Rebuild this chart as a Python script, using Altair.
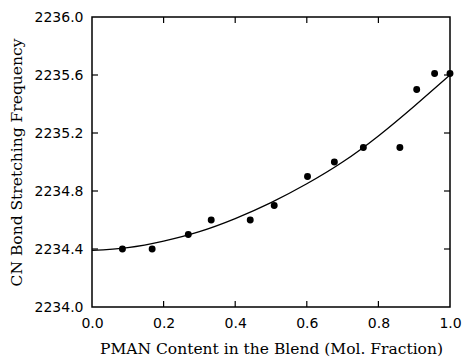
import altair as alt
import pandas as pd

# Measured points
x_pts = [0.085, 0.168, 0.269, 0.333, 0.442, 0.509, 0.602, 0.677, 0.758, 0.860, 0.907, 0.957, 1.000]
y_pts = [2234.40, 2234.40, 2234.50, 2234.60, 2234.60, 2234.70, 2234.90, 2235.00, 2235.10, 2235.10, 2235.50, 2235.61, 2235.61]

# Fitted curve
x_fit = [0.0, 0.1, 0.2, 0.3, 0.4, 0.5, 0.6, 0.7, 0.8, 0.9, 1.0]
y_fit = [2234.39, 2234.41, 2234.455, 2234.52, 2234.61, 2234.72, 2234.85, 2235.00, 2235.18, 2235.385, 2235.60]

x_ticks = [0.2, 0.4, 0.6, 0.8]
y_ticks = [2234.4, 2234.8, 2235.2, 2235.6]

W, H = 358, 290
TL = 6

pts = pd.DataFrame({"x": x_pts, "y": y_pts})
fit = pd.DataFrame({"x": x_fit, "y": y_fit})
xt = pd.DataFrame({"x": x_ticks})
yt = pd.DataFrame({"y": y_ticks})

xs = alt.Scale(domain=[0, 1], nice=False, zero=False)
ys = alt.Scale(domain=[2234, 2236], nice=False, zero=False)

XT = "PMAN Content in the Blend (Mol. Fraction)"
YT = "CN Bond Stretching Frequency"

line = alt.Chart(fit).mark_line(color="black", strokeWidth=1.3, interpolate="natural").encode(
    x=alt.X("x:Q", scale=xs, title=XT, axis=alt.Axis(
        values=[0, 0.2, 0.4, 0.6, 0.8, 1.0], format=".1f", labelPadding=9, titlePadding=11)),
    y=alt.Y("y:Q", scale=ys, title=YT, axis=alt.Axis(
        values=[2234.0, 2234.4, 2234.8, 2235.2, 2235.6, 2236.0], format=".1f", labelPadding=9, titlePadding=10)),
)

points = alt.Chart(pts).mark_circle(color="black", opacity=1, size=48).encode(
    x=alt.X("x:Q", scale=xs, title=XT),
    y=alt.Y("y:Q", scale=ys, title=YT),
)

xb = alt.Chart(xt).mark_rule(color="black", strokeWidth=1.2).encode(
    x=alt.X("x:Q", scale=xs, title=XT), y=alt.value(H), y2=alt.value(H - TL))
xtop = alt.Chart(xt).mark_rule(color="black", strokeWidth=1.2).encode(
    x=alt.X("x:Q", scale=xs, title=XT), y=alt.value(0), y2=alt.value(TL))
yl = alt.Chart(yt).mark_rule(color="black", strokeWidth=1.2).encode(
    y=alt.Y("y:Q", scale=ys, title=YT), x=alt.value(0), x2=alt.value(TL))
yr = alt.Chart(yt).mark_rule(color="black", strokeWidth=1.2).encode(
    y=alt.Y("y:Q", scale=ys, title=YT), x=alt.value(W), x2=alt.value(W - TL))

chart = alt.layer(line, points, xb, xtop, yl, yr).properties(
    width=W, height=H,
    autosize=alt.AutoSizeParams(type="none"),
    padding={"left": 92, "top": 17, "right": 12, "bottom": 51},
    background="white",
).configure_view(stroke="black", strokeWidth=1.5).configure_axis(
    ticks=False, domain=False, grid=False, labelFlush=False,
    labelFont="DejaVu Sans", labelFontSize=14, labelColor="black",
    titleFont="DejaVu Serif", titleFontSize=15.5, titleFontWeight="normal", titleColor="black",
)

chart.save("out.html", embed_options={"renderer": "svg", "actions": False})
